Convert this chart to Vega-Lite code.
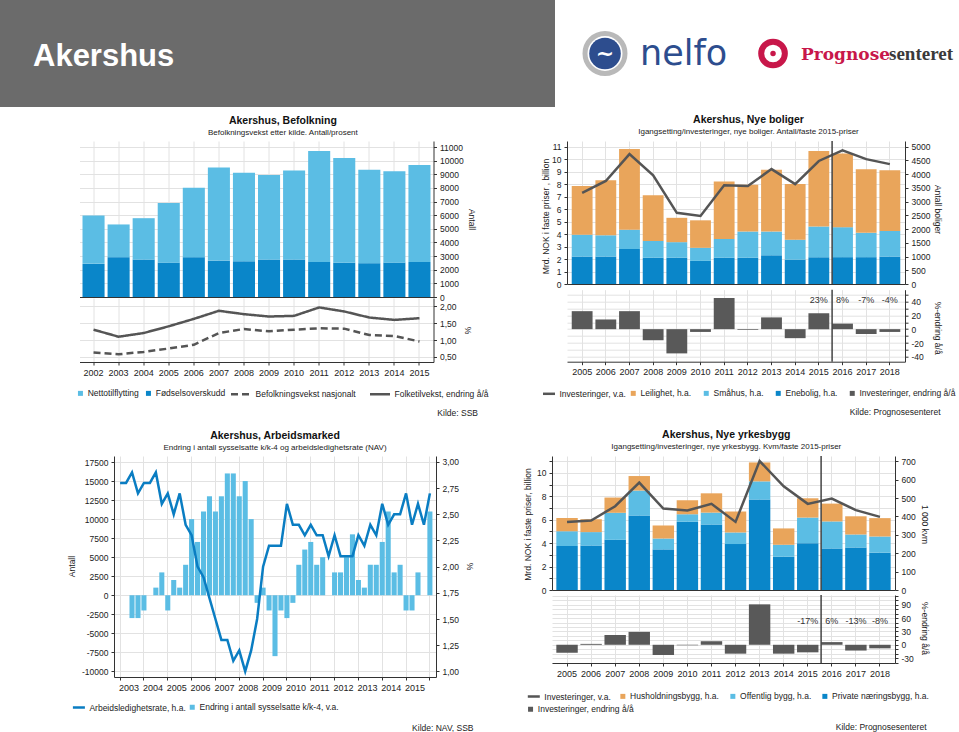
{
  "$schema": "https://vega.github.io/schema/vega-lite/v6.json",
  "background": "white",
  "padding": 0,
  "spacing": 0,
  "resolve": {"scale": {"color": "independent", "stroke": "independent", "strokeDash": "independent", "fill": "independent"}},
  "config": {
    "view": {"stroke": null},
    "font": "Liberation Sans",
    "axis": {"labelFont": "Liberation Sans", "labelFontSize": 8.5, "labelColor": "#222", "titleFont": "Liberation Sans", "titleFontSize": 8.5, "titleFontWeight": "normal", "titleColor": "#222", "gridColor": "#e2e2e2", "domainColor": "#333", "tickColor": "#333", "tickSize": 3, "labelPadding": 3},
    "legend": {"labelFont": "Liberation Sans", "labelFontSize": 8.5, "labelColor": "#222", "padding": 0, "symbolSize": 25, "labelOffset": 3, "columnPadding": 6},
    "title": {"font": "Liberation Sans", "fontSize": 10.5, "fontWeight": "bold", "color": "#111", "subtitleFont": "Liberation Sans", "subtitleFontSize": 8, "subtitleColor": "#222", "subtitlePadding": 3, "offset": 4, "anchor": "middle"}
  },
  "datasets": {
    "befolkning_bar": [
      {"aar": "2002", "serie": "Fødselsoverskudd", "antall": 2430}, {"aar": "2002", "serie": "Nettotilflytting", "antall": 3550},
      {"aar": "2003", "serie": "Fødselsoverskudd", "antall": 2920}, {"aar": "2003", "serie": "Nettotilflytting", "antall": 2400},
      {"aar": "2004", "serie": "Fødselsoverskudd", "antall": 2750}, {"aar": "2004", "serie": "Nettotilflytting", "antall": 3030},
      {"aar": "2005", "serie": "Fødselsoverskudd", "antall": 2520}, {"aar": "2005", "serie": "Nettotilflytting", "antall": 4370},
      {"aar": "2006", "serie": "Fødselsoverskudd", "antall": 2920}, {"aar": "2006", "serie": "Nettotilflytting", "antall": 5100},
      {"aar": "2007", "serie": "Fødselsoverskudd", "antall": 2670}, {"aar": "2007", "serie": "Nettotilflytting", "antall": 6820},
      {"aar": "2008", "serie": "Fødselsoverskudd", "antall": 2620}, {"aar": "2008", "serie": "Nettotilflytting", "antall": 6500},
      {"aar": "2009", "serie": "Fødselsoverskudd", "antall": 2750}, {"aar": "2009", "serie": "Nettotilflytting", "antall": 6200},
      {"aar": "2010", "serie": "Fødselsoverskudd", "antall": 2750}, {"aar": "2010", "serie": "Nettotilflytting", "antall": 6520},
      {"aar": "2011", "serie": "Fødselsoverskudd", "antall": 2570}, {"aar": "2011", "serie": "Nettotilflytting", "antall": 8140},
      {"aar": "2012", "serie": "Fødselsoverskudd", "antall": 2520}, {"aar": "2012", "serie": "Nettotilflytting", "antall": 7680},
      {"aar": "2013", "serie": "Fødselsoverskudd", "antall": 2480}, {"aar": "2013", "serie": "Nettotilflytting", "antall": 6860},
      {"aar": "2014", "serie": "Fødselsoverskudd", "antall": 2520}, {"aar": "2014", "serie": "Nettotilflytting", "antall": 6700},
      {"aar": "2015", "serie": "Fødselsoverskudd", "antall": 2570}, {"aar": "2015", "serie": "Nettotilflytting", "antall": 7110}
    ],
    "befolkning_linje": [
      {"aar": "2002", "serie": "Folketilvekst, endring å/å", "pst": 1.31}, {"aar": "2002", "serie": "Befolkningsvekst nasjonalt", "pst": 0.63},
      {"aar": "2003", "serie": "Folketilvekst, endring å/å", "pst": 1.10}, {"aar": "2003", "serie": "Befolkningsvekst nasjonalt", "pst": 0.58},
      {"aar": "2004", "serie": "Folketilvekst, endring å/å", "pst": 1.21}, {"aar": "2004", "serie": "Befolkningsvekst nasjonalt", "pst": 0.65},
      {"aar": "2005", "serie": "Folketilvekst, endring å/å", "pst": 1.41}, {"aar": "2005", "serie": "Befolkningsvekst nasjonalt", "pst": 0.75},
      {"aar": "2006", "serie": "Folketilvekst, endring å/å", "pst": 1.63}, {"aar": "2006", "serie": "Befolkningsvekst nasjonalt", "pst": 0.86},
      {"aar": "2007", "serie": "Folketilvekst, endring å/å", "pst": 1.87}, {"aar": "2007", "serie": "Befolkningsvekst nasjonalt", "pst": 1.21},
      {"aar": "2008", "serie": "Folketilvekst, endring å/å", "pst": 1.77}, {"aar": "2008", "serie": "Befolkningsvekst nasjonalt", "pst": 1.33},
      {"aar": "2009", "serie": "Folketilvekst, endring å/å", "pst": 1.70}, {"aar": "2009", "serie": "Befolkningsvekst nasjonalt", "pst": 1.26},
      {"aar": "2010", "serie": "Folketilvekst, endring å/å", "pst": 1.72}, {"aar": "2010", "serie": "Befolkningsvekst nasjonalt", "pst": 1.31},
      {"aar": "2011", "serie": "Folketilvekst, endring å/å", "pst": 1.97}, {"aar": "2011", "serie": "Befolkningsvekst nasjonalt", "pst": 1.35},
      {"aar": "2012", "serie": "Folketilvekst, endring å/å", "pst": 1.85}, {"aar": "2012", "serie": "Befolkningsvekst nasjonalt", "pst": 1.34},
      {"aar": "2013", "serie": "Folketilvekst, endring å/å", "pst": 1.67}, {"aar": "2013", "serie": "Befolkningsvekst nasjonalt", "pst": 1.15},
      {"aar": "2014", "serie": "Folketilvekst, endring å/å", "pst": 1.60}, {"aar": "2014", "serie": "Befolkningsvekst nasjonalt", "pst": 1.12},
      {"aar": "2015", "serie": "Folketilvekst, endring å/å", "pst": 1.65}, {"aar": "2015", "serie": "Befolkningsvekst nasjonalt", "pst": 0.96}
    ],
    "boliger_bar": [
      {"aar": "2005", "serie": "Enebolig, h.a.", "antall": 1000}, {"aar": "2005", "serie": "Småhus, h.a.", "antall": 795}, {"aar": "2005", "serie": "Leilighet, h.a.", "antall": 1773},
      {"aar": "2006", "serie": "Enebolig, h.a.", "antall": 1000}, {"aar": "2006", "serie": "Småhus, h.a.", "antall": 773}, {"aar": "2006", "serie": "Leilighet, h.a.", "antall": 2000},
      {"aar": "2007", "serie": "Enebolig, h.a.", "antall": 1273}, {"aar": "2007", "serie": "Småhus, h.a.", "antall": 705}, {"aar": "2007", "serie": "Leilighet, h.a.", "antall": 2932},
      {"aar": "2008", "serie": "Enebolig, h.a.", "antall": 955}, {"aar": "2008", "serie": "Småhus, h.a.", "antall": 614}, {"aar": "2008", "serie": "Leilighet, h.a.", "antall": 1659},
      {"aar": "2009", "serie": "Enebolig, h.a.", "antall": 955}, {"aar": "2009", "serie": "Småhus, h.a.", "antall": 568}, {"aar": "2009", "serie": "Leilighet, h.a.", "antall": 886},
      {"aar": "2010", "serie": "Enebolig, h.a.", "antall": 841}, {"aar": "2010", "serie": "Småhus, h.a.", "antall": 477}, {"aar": "2010", "serie": "Leilighet, h.a.", "antall": 1000},
      {"aar": "2011", "serie": "Enebolig, h.a.", "antall": 955}, {"aar": "2011", "serie": "Småhus, h.a.", "antall": 682}, {"aar": "2011", "serie": "Leilighet, h.a.", "antall": 2091},
      {"aar": "2012", "serie": "Enebolig, h.a.", "antall": 955}, {"aar": "2012", "serie": "Småhus, h.a.", "antall": 955}, {"aar": "2012", "serie": "Leilighet, h.a.", "antall": 1705},
      {"aar": "2013", "serie": "Enebolig, h.a.", "antall": 1045}, {"aar": "2013", "serie": "Småhus, h.a.", "antall": 864}, {"aar": "2013", "serie": "Leilighet, h.a.", "antall": 2250},
      {"aar": "2014", "serie": "Enebolig, h.a.", "antall": 886}, {"aar": "2014", "serie": "Småhus, h.a.", "antall": 727}, {"aar": "2014", "serie": "Leilighet, h.a.", "antall": 2023},
      {"aar": "2015", "serie": "Enebolig, h.a.", "antall": 977}, {"aar": "2015", "serie": "Småhus, h.a.", "antall": 1114}, {"aar": "2015", "serie": "Leilighet, h.a.", "antall": 2750},
      {"aar": "2016", "serie": "Enebolig, h.a.", "antall": 977}, {"aar": "2016", "serie": "Småhus, h.a.", "antall": 1091}, {"aar": "2016", "serie": "Leilighet, h.a.", "antall": 2682},
      {"aar": "2017", "serie": "Enebolig, h.a.", "antall": 977}, {"aar": "2017", "serie": "Småhus, h.a.", "antall": 886}, {"aar": "2017", "serie": "Leilighet, h.a.", "antall": 2318},
      {"aar": "2018", "serie": "Enebolig, h.a.", "antall": 1000}, {"aar": "2018", "serie": "Småhus, h.a.", "antall": 932}, {"aar": "2018", "serie": "Leilighet, h.a.", "antall": 2205}
    ],
    "boliger_inv": [
      {"aar": "2005", "mrd": 7.3, "endring": 26},
      {"aar": "2006", "mrd": 8.25, "endring": 14},
      {"aar": "2007", "mrd": 10.4, "endring": 26},
      {"aar": "2008", "mrd": 8.7, "endring": -16},
      {"aar": "2009", "mrd": 5.7, "endring": -35},
      {"aar": "2010", "mrd": 5.45, "endring": -4},
      {"aar": "2011", "mrd": 7.9, "endring": 45},
      {"aar": "2012", "mrd": 7.85, "endring": -1},
      {"aar": "2013", "mrd": 9.2, "endring": 17},
      {"aar": "2014", "mrd": 8.0, "endring": -13},
      {"aar": "2015", "mrd": 9.85, "endring": 23, "etikett": "23%"},
      {"aar": "2016", "mrd": 10.7, "endring": 8, "etikett": "8%"},
      {"aar": "2017", "mrd": 10.0, "endring": -7, "etikett": "-7%"},
      {"aar": "2018", "mrd": 9.6, "endring": -4, "etikett": "-4%"}
    ],
    "arbeid": [
      {"kvartal": "2003K1", "endring": 0, "rate": 2.8}, {"kvartal": "2003K2", "endring": 0, "rate": 2.8}, {"kvartal": "2003K3", "endring": -3000, "rate": 2.9}, {"kvartal": "2003K4", "endring": -3000, "rate": 2.7},
      {"kvartal": "2004K1", "endring": -2000, "rate": 2.8}, {"kvartal": "2004K2", "endring": 0, "rate": 2.8}, {"kvartal": "2004K3", "endring": 1000, "rate": 2.9}, {"kvartal": "2004K4", "endring": 3000, "rate": 2.6},
      {"kvartal": "2005K1", "endring": -2000, "rate": 2.7}, {"kvartal": "2005K2", "endring": 2000, "rate": 2.5}, {"kvartal": "2005K3", "endring": 1000, "rate": 2.7}, {"kvartal": "2005K4", "endring": 4000, "rate": 2.4},
      {"kvartal": "2006K1", "endring": 10000, "rate": 2.3}, {"kvartal": "2006K2", "endring": 7000, "rate": 2.0}, {"kvartal": "2006K3", "endring": 11000, "rate": 1.9}, {"kvartal": "2006K4", "endring": 13000, "rate": 1.7},
      {"kvartal": "2007K1", "endring": 11000, "rate": 1.5}, {"kvartal": "2007K2", "endring": 13000, "rate": 1.3}, {"kvartal": "2007K3", "endring": 16000, "rate": 1.3}, {"kvartal": "2007K4", "endring": 16000, "rate": 1.1},
      {"kvartal": "2008K1", "endring": 13000, "rate": 1.2}, {"kvartal": "2008K2", "endring": 15000, "rate": 1.0}, {"kvartal": "2008K3", "endring": 10000, "rate": 1.2}, {"kvartal": "2008K4", "endring": -1000, "rate": 1.5},
      {"kvartal": "2009K1", "endring": 1000, "rate": 2.0}, {"kvartal": "2009K2", "endring": -2000, "rate": 2.2}, {"kvartal": "2009K3", "endring": -8000, "rate": 2.2}, {"kvartal": "2009K4", "endring": -2000, "rate": 2.2},
      {"kvartal": "2010K1", "endring": -3000, "rate": 2.6}, {"kvartal": "2010K2", "endring": -1000, "rate": 2.4}, {"kvartal": "2010K3", "endring": 4000, "rate": 2.4}, {"kvartal": "2010K4", "endring": 6000, "rate": 2.3},
      {"kvartal": "2011K1", "endring": 7000, "rate": 2.4}, {"kvartal": "2011K2", "endring": 4000, "rate": 2.3}, {"kvartal": "2011K3", "endring": 5000, "rate": 2.3}, {"kvartal": "2011K4", "endring": 0, "rate": 2.1},
      {"kvartal": "2012K1", "endring": 3000, "rate": 2.3}, {"kvartal": "2012K2", "endring": 3000, "rate": 2.1}, {"kvartal": "2012K3", "endring": 5000, "rate": 2.1}, {"kvartal": "2012K4", "endring": 8000, "rate": 2.1},
      {"kvartal": "2013K1", "endring": 2000, "rate": 2.3}, {"kvartal": "2013K2", "endring": 1000, "rate": 2.2}, {"kvartal": "2013K3", "endring": 4000, "rate": 2.4}, {"kvartal": "2013K4", "endring": 4000, "rate": 2.3},
      {"kvartal": "2014K1", "endring": 7000, "rate": 2.6}, {"kvartal": "2014K2", "endring": 11000, "rate": 2.4}, {"kvartal": "2014K3", "endring": 3000, "rate": 2.5}, {"kvartal": "2014K4", "endring": 4000, "rate": 2.5},
      {"kvartal": "2015K1", "endring": -2000, "rate": 2.7}, {"kvartal": "2015K2", "endring": -2000, "rate": 2.4}, {"kvartal": "2015K3", "endring": 3000, "rate": 2.6}, {"kvartal": "2015K4", "endring": 0, "rate": 2.4},
      {"kvartal": "2016K1", "endring": 11000, "rate": 2.7}
    ],
    "yrkes_bar": [
      {"aar": "2005", "serie": "Private næringsbygg, h.a.", "kvm": 239}, {"aar": "2005", "serie": "Offentlig bygg, h.a.", "kvm": 81}, {"aar": "2005", "serie": "Husholdningsbygg, h.a.", "kvm": 72},
      {"aar": "2006", "serie": "Private næringsbygg, h.a.", "kvm": 242}, {"aar": "2006", "serie": "Offentlig bygg, h.a.", "kvm": 73}, {"aar": "2006", "serie": "Husholdningsbygg, h.a.", "kvm": 70},
      {"aar": "2007", "serie": "Private næringsbygg, h.a.", "kvm": 273}, {"aar": "2007", "serie": "Offentlig bygg, h.a.", "kvm": 147}, {"aar": "2007", "serie": "Husholdningsbygg, h.a.", "kvm": 83},
      {"aar": "2008", "serie": "Private næringsbygg, h.a.", "kvm": 405}, {"aar": "2008", "serie": "Offentlig bygg, h.a.", "kvm": 136}, {"aar": "2008", "serie": "Husholdningsbygg, h.a.", "kvm": 79},
      {"aar": "2009", "serie": "Private næringsbygg, h.a.", "kvm": 221}, {"aar": "2009", "serie": "Offentlig bygg, h.a.", "kvm": 59}, {"aar": "2009", "serie": "Husholdningsbygg, h.a.", "kvm": 71},
      {"aar": "2010", "serie": "Private næringsbygg, h.a.", "kvm": 371}, {"aar": "2010", "serie": "Offentlig bygg, h.a.", "kvm": 41}, {"aar": "2010", "serie": "Husholdningsbygg, h.a.", "kvm": 76},
      {"aar": "2011", "serie": "Private næringsbygg, h.a.", "kvm": 356}, {"aar": "2011", "serie": "Offentlig bygg, h.a.", "kvm": 65}, {"aar": "2011", "serie": "Husholdningsbygg, h.a.", "kvm": 105},
      {"aar": "2012", "serie": "Private næringsbygg, h.a.", "kvm": 250}, {"aar": "2012", "serie": "Offentlig bygg, h.a.", "kvm": 63}, {"aar": "2012", "serie": "Husholdningsbygg, h.a.", "kvm": 114},
      {"aar": "2013", "serie": "Private næringsbygg, h.a.", "kvm": 492}, {"aar": "2013", "serie": "Offentlig bygg, h.a.", "kvm": 99}, {"aar": "2013", "serie": "Husholdningsbygg, h.a.", "kvm": 103},
      {"aar": "2014", "serie": "Private næringsbygg, h.a.", "kvm": 181}, {"aar": "2014", "serie": "Offentlig bygg, h.a.", "kvm": 65}, {"aar": "2014", "serie": "Husholdningsbygg, h.a.", "kvm": 89},
      {"aar": "2015", "serie": "Private næringsbygg, h.a.", "kvm": 255}, {"aar": "2015", "serie": "Offentlig bygg, h.a.", "kvm": 139}, {"aar": "2015", "serie": "Husholdningsbygg, h.a.", "kvm": 105},
      {"aar": "2016", "serie": "Private næringsbygg, h.a.", "kvm": 226}, {"aar": "2016", "serie": "Offentlig bygg, h.a.", "kvm": 147}, {"aar": "2016", "serie": "Husholdningsbygg, h.a.", "kvm": 97},
      {"aar": "2017", "serie": "Private næringsbygg, h.a.", "kvm": 231}, {"aar": "2017", "serie": "Offentlig bygg, h.a.", "kvm": 71}, {"aar": "2017", "serie": "Husholdningsbygg, h.a.", "kvm": 99},
      {"aar": "2018", "serie": "Private næringsbygg, h.a.", "kvm": 203}, {"aar": "2018", "serie": "Offentlig bygg, h.a.", "kvm": 88}, {"aar": "2018", "serie": "Husholdningsbygg, h.a.", "kvm": 100}
    ],
    "yrkes_inv": [
      {"aar": "2005", "mrd": 5.82, "endring": -18},
      {"aar": "2006", "mrd": 5.94, "endring": 2},
      {"aar": "2007", "mrd": 7.16, "endring": 22},
      {"aar": "2008", "mrd": 9.18, "endring": 29},
      {"aar": "2009", "mrd": 6.96, "endring": -23},
      {"aar": "2010", "mrd": 6.79, "endring": -1},
      {"aar": "2011", "mrd": 7.36, "endring": 8},
      {"aar": "2012", "mrd": 5.82, "endring": -20},
      {"aar": "2013", "mrd": 11.02, "endring": 91},
      {"aar": "2014", "mrd": 8.86, "endring": -20},
      {"aar": "2015", "mrd": 7.36, "endring": -17, "etikett": "-17%"},
      {"aar": "2016", "mrd": 7.81, "endring": 6, "etikett": "6%"},
      {"aar": "2017", "mrd": 6.82, "endring": -13, "etikett": "-13%"},
      {"aar": "2018", "mrd": 6.25, "endring": -8, "etikett": "-8%"}
    ],
    "tom": [{"n": 0}],
    "skille": [{"aar": "2016"}],
    "topp": [{"n": 0, "tekst": "Akershus"}],
    "nelfo": [{"n": 0, "tekst": "nelfo", "ikon": "~"}],
    "prognose": [{"n": 0, "del1": "Prognose", "del2": "senteret"}]
  },
  "vconcat": [
    {
      "spacing": 0,
      "hconcat": [
        {
          "width": 555,
          "height": 107,
          "view": {"fill": "#6b6b6b", "stroke": null},
          "data": {"name": "topp"},
          "mark": {"type": "text", "color": "white", "font": "Liberation Sans", "fontWeight": "bold", "fontSize": 31, "align": "left", "baseline": "middle", "dx": 33, "dy": 3},
          "encoding": {
            "x": {"field": "n", "type": "quantitative", "scale": {"domain": [0, 1]}, "axis": null},
            "y": {"field": "n", "type": "quantitative", "scale": {"domain": [-1, 1]}, "axis": null},
            "text": {"field": "tekst"}
          }
        },
        {
          "width": 180,
          "height": 107,
          "data": {"name": "nelfo"},
          "encoding": {
            "x": {"field": "n", "type": "quantitative", "scale": {"domain": [-1, 2.6]}, "axis": null},
            "y": {"field": "n", "type": "quantitative", "scale": {"domain": [-1, 1]}, "axis": null}
          },
          "layer": [
            {"mark": {"type": "point", "shape": "circle", "filled": false, "stroke": "#b9b9b9", "strokeWidth": 5, "size": 1600, "opacity": 1}},
            {"mark": {"type": "point", "shape": "circle", "filled": true, "color": "#2d4d8e", "size": 1000, "opacity": 1}},
            {"mark": {"type": "text", "color": "white", "font": "DejaVu Sans", "fontWeight": "bold", "fontSize": 22, "align": "center", "baseline": "middle"}, "encoding": {"text": {"field": "ikon"}}},
            {"mark": {"type": "text", "color": "#2d4d8e", "font": "DejaVu Sans", "fontSize": 35, "align": "left", "baseline": "alphabetic", "dx": 35, "dy": 11}, "encoding": {"text": {"field": "tekst"}}}
          ]
        },
        {
          "width": 224,
          "height": 107,
          "data": {"name": "prognose"},
          "encoding": {
            "x": {"field": "n", "type": "quantitative", "scale": {"domain": [-1, 4.89]}, "axis": null},
            "y": {"field": "n", "type": "quantitative", "scale": {"domain": [-1, 1]}, "axis": null}
          },
          "layer": [
            {"mark": {"type": "point", "shape": "circle", "filled": false, "stroke": "#c8174a", "strokeWidth": 6, "size": 560, "opacity": 1}},
            {"mark": {"type": "point", "shape": "circle", "filled": true, "color": "#c8174a", "size": 30, "opacity": 1}},
            {"mark": {"type": "text", "color": "#c8174a", "font": "DejaVu Serif", "fontWeight": "bold", "fontSize": 17, "align": "left", "baseline": "alphabetic", "dx": 28, "dy": 6}, "encoding": {"text": {"field": "del1"}}},
            {"mark": {"type": "text", "color": "#3a3a3a", "font": "Liberation Serif", "fontWeight": "bold", "fontSize": 19, "align": "left", "baseline": "alphabetic", "dx": 116, "dy": 6}, "encoding": {"text": {"field": "del2"}}}
          ]
        }
      ]
    },
    {
      "width": 10, "height": 7,
      "data": {"name": "tom"},
      "mark": {"type": "point", "opacity": 0, "size": 0},
      "encoding": {"x": {"field": "n", "type": "quantitative", "axis": null}, "y": {"field": "n", "type": "quantitative", "axis": null}}
    },
    {
      "spacing": 51.5,
      "resolve": {"scale": {"color": "independent", "stroke": "independent", "strokeDash": "independent", "fill": "independent"}},
      "hconcat": [
        {
          "width": 24, "height": 10,
          "data": {"name": "tom"},
          "mark": {"type": "point", "opacity": 0, "size": 0},
          "encoding": {"x": {"field": "n", "type": "quantitative", "axis": null}, "y": {"field": "n", "type": "quantitative", "axis": null}}
        },
        {
          "title": {"text": "Akershus, Befolkning", "subtitle": "Befolkningsvekst etter kilde. Antall/prosent", "anchor": "middle"},
          "spacing": 1,
          "bounds": "flush",
          "vconcat": [
            {
              "width": 354,
              "height": 156,
              "data": {"name": "befolkning_bar"},
              "transform": [{"calculate": "indexof(['Fødselsoverskudd','Nettotilflytting'], datum.serie)", "as": "rekke"}],
              "mark": {"type": "bar"},
              "encoding": {
                "x": {"field": "aar", "type": "ordinal", "scale": {"type": "band", "paddingInner": 0.12, "paddingOuter": 0.12}, "axis": {"title": null, "labels": false, "ticks": false, "grid": true, "domain": true}},
                "y": {"field": "antall", "type": "quantitative", "stack": "zero", "scale": {"domain": [0, 11440], "nice": false}, "axis": {"orient": "right", "values": [0, 1000, 2000, 3000, 4000, 5000, 6000, 7000, 8000, 9000, 10000, 11000], "labelExpr": "datum.value + ''", "title": "Antall", "titleX": 38, "titleY": 78, "titleAngle": 90, "titleAlign": "center", "titleBaseline": "middle", "grid": true}},
                "color": {
                  "field": "serie", "type": "nominal",
                  "scale": {"domain": ["Nettotilflytting", "Fødselsoverskudd"], "range": ["#5bbde4", "#0a86c9"]},
                  "legend": {"orient": "none", "legendX": -3.3, "legendY": 248, "direction": "horizontal", "title": null, "symbolType": "square", "columnPadding": 5}
                },
                "order": {"field": "rekke", "type": "quantitative"}
              }
            },
            {
              "width": 354,
              "height": 64,
              "data": {"name": "befolkning_linje"},
              "mark": {"type": "line", "strokeWidth": 2.5},
              "encoding": {
                "x": {"field": "aar", "type": "ordinal", "scale": {"type": "band", "paddingInner": 0.12, "paddingOuter": 0.12}, "axis": {"title": "Kilde: SSB", "titleX": 398, "titleY": 50, "titleAlign": "right", "titleBaseline": "middle", "labelAngle": 0, "grid": true, "labelFontSize": 9}},
                "y": {"field": "pst", "type": "quantitative", "scale": {"domain": [0.35, 2.25], "nice": false, "zero": false}, "axis": {"orient": "right", "values": [0.5, 1, 1.5, 2], "labelExpr": "replace(format(datum.value, '.2f'), '.', ',')", "title": "%", "titleX": 34, "titleY": 32, "titleAngle": 90, "titleAlign": "center", "titleBaseline": "middle", "grid": true}},
                "stroke": {
                  "field": "serie", "type": "nominal",
                  "scale": {"domain": ["Befolkningsvekst nasjonalt", "Folketilvekst, endring å/å"], "range": ["#555555", "#555555"]},
                  "legend": {"orient": "none", "legendX": 150, "legendY": 241.5, "direction": "horizontal", "title": null, "symbolType": "stroke", "symbolSize": 400, "symbolStrokeWidth": 2.5, "columnPadding": 8}
                },
                "strokeDash": {
                  "field": "serie", "type": "nominal",
                  "scale": {"domain": ["Befolkningsvekst nasjonalt", "Folketilvekst, endring å/å"], "range": [[7, 4], [1, 0]]},
                  "legend": {"orient": "none", "legendX": 150, "legendY": 241.5, "direction": "horizontal", "title": null, "symbolType": "stroke", "symbolSize": 400, "symbolStrokeWidth": 2.5, "columnPadding": 8}
                }
              }
            }
          ]
        },
        {
          "title": {"text": "Akershus, Nye boliger", "subtitle": "Igangsetting/investeringer, nye boliger. Antall/faste 2015-priser", "anchor": "middle"},
          "spacing": 5.7,
          "bounds": "flush",
          "vconcat": [
            {
              "width": 338,
              "height": 143,
              "resolve": {"scale": {"y": "independent"}},
              "layer": [
                {
                  "data": {"name": "boliger_bar"},
                  "transform": [{"calculate": "indexof(['Enebolig, h.a.','Småhus, h.a.','Leilighet, h.a.'], datum.serie)", "as": "rekke"}],
                  "mark": {"type": "bar"},
                  "encoding": {
                    "x": {"field": "aar", "type": "ordinal", "scale": {"type": "band", "paddingInner": 0.12, "paddingOuter": 0.2}, "axis": {"title": null, "labels": false, "ticks": false, "grid": true, "domain": true}},
                    "y": {"field": "antall", "type": "quantitative", "stack": "zero", "scale": {"domain": [0, 5205], "nice": false}, "axis": {"orient": "right", "values": [0, 500, 1000, 1500, 2000, 2500, 3000, 3500, 4000, 4500, 5000], "labelExpr": "datum.value + ''", "title": "Antall boliger", "titleX": 32, "titleY": 68, "titleAngle": 90, "titleAlign": "center", "titleBaseline": "middle", "grid": false}},
                    "color": {
                      "field": "serie", "type": "nominal",
                      "scale": {"domain": ["Leilighet, h.a.", "Småhus, h.a.", "Enebolig, h.a.", "Investeringer, endring å/å"], "range": ["#e9a55b", "#5bbde4", "#0a86c9", "#595959"]},
                      "legend": {"orient": "none", "legendX": 62, "legendY": 248, "direction": "horizontal", "title": null, "symbolType": "square", "columnPadding": 10}
                    },
                    "order": {"field": "rekke", "type": "quantitative"}
                  }
                },
                {
                  "data": {"name": "boliger_inv"},
                  "transform": [{"calculate": "'Investeringer, v.a.'", "as": "serie"}],
                  "mark": {"type": "line", "strokeWidth": 2.5},
                  "encoding": {
                    "x": {"field": "aar", "type": "ordinal", "scale": {"type": "band", "paddingInner": 0.12, "paddingOuter": 0.2}},
                    "y": {"field": "mrd", "type": "quantitative", "scale": {"domain": [0, 11.45], "nice": false}, "axis": {"orient": "left", "values": [0, 1, 2, 3, 4, 5, 6, 7, 8, 9, 10, 11], "title": "Mrd. NOK i faste priser , billion", "titleX": -22, "titleY": 75, "titleAngle": -90, "titleAlign": "center", "titleBaseline": "middle", "grid": true}},
                    "stroke": {
                      "field": "serie", "type": "nominal",
                      "scale": {"domain": ["Investeringer, v.a."], "range": ["#555555"]},
                      "legend": {"orient": "none", "legendX": -25.5, "legendY": 245.3, "direction": "horizontal", "title": null, "symbolType": "stroke", "symbolSize": 144, "symbolStrokeWidth": 2.5}
                    }
                  }
                },
                {
                  "data": {"name": "skille"},
                  "mark": {"type": "rule", "color": "#444444", "strokeWidth": 1.5},
                  "encoding": {"x": {"field": "aar", "type": "ordinal", "bandPosition": 0}}
                }
              ]
            },
            {
              "width": 338,
              "height": 72,
              "layer": [
                {
                  "data": {"name": "boliger_inv"},
                  "transform": [{"calculate": "'Investeringer, endring å/å'", "as": "serie"}],
                  "mark": {"type": "bar"},
                  "encoding": {
                    "x": {"field": "aar", "type": "ordinal", "scale": {"type": "band", "paddingInner": 0.12, "paddingOuter": 0.2}, "axis": {"title": "Kilde: Prognosesenteret", "titleX": 373, "titleY": 50, "titleAlign": "right", "titleBaseline": "middle", "labelAngle": 0, "grid": true, "labelFontSize": 9}},
                    "y": {"field": "endring", "type": "quantitative", "scale": {"domain": [-47, 57], "nice": false}, "axis": {"orient": "right", "values": [-40, -30, -20, -10, 0, 10, 20, 30, 40, 50], "labelExpr": "datum.value % 20 === 0 ? datum.value + '' : ''", "title": "%-endring å/å", "titleX": 32, "titleY": 38, "titleAngle": 90, "titleAlign": "center", "titleBaseline": "middle", "grid": true}},
                    "color": {"field": "serie", "type": "nominal", "scale": {"domain": ["Leilighet, h.a.", "Småhus, h.a.", "Enebolig, h.a.", "Investeringer, endring å/å"], "range": ["#e9a55b", "#5bbde4", "#0a86c9", "#595959"]}}
                  }
                },
                {
                  "data": {"name": "boliger_inv"},
                  "transform": [{"filter": "datum.etikett"}],
                  "mark": {"type": "text", "fontSize": 9, "color": "#333333", "dy": -26},
                  "encoding": {
                    "x": {"field": "aar", "type": "ordinal", "scale": {"type": "band", "paddingInner": 0.12, "paddingOuter": 0.2}},
                    "text": {"field": "etikett"}
                  }
                },
                {
                  "data": {"name": "skille"},
                  "mark": {"type": "rule", "color": "#444444", "strokeWidth": 1.5},
                  "encoding": {"x": {"field": "aar", "type": "ordinal", "bandPosition": 0}}
                }
              ]
            }
          ]
        }
      ]
    },
    {
      "width": 10, "height": 12,
      "data": {"name": "tom"},
      "mark": {"type": "point", "opacity": 0, "size": 0},
      "encoding": {"x": {"field": "n", "type": "quantitative", "axis": null}, "y": {"field": "n", "type": "quantitative", "axis": null}}
    },
    {
      "spacing": 48,
      "resolve": {"scale": {"color": "independent", "stroke": "independent", "strokeDash": "independent", "fill": "independent"}},
      "hconcat": [
        {
          "width": 19, "height": 10,
          "data": {"name": "tom"},
          "mark": {"type": "point", "opacity": 0, "size": 0},
          "encoding": {"x": {"field": "n", "type": "quantitative", "axis": null}, "y": {"field": "n", "type": "quantitative", "axis": null}}
        },
        {
          "title": {"text": "Akershus, Arbeidsmarked", "subtitle": "Endring i antall sysselsatte k/k-4 og arbeidsledighetsrate (NAV)", "anchor": "middle"},
          "width": 322,
          "height": 221,
          "data": {"name": "arbeid"},
          "resolve": {"scale": {"y": "independent"}},
          "layer": [
            {
              "transform": [{"calculate": "'Endring i antall sysselsatte k/k-4, v.a.'", "as": "serie"}],
              "mark": {"type": "bar"},
              "encoding": {
                "x": {"field": "kvartal", "type": "ordinal", "scale": {"type": "band", "paddingInner": 0.15, "paddingOuter": 0.6}, "axis": {"title": "Kilde: NAV, SSB", "titleX": 359, "titleY": 50, "titleAlign": "right", "titleBaseline": "middle", "values": ["2003K1", "2004K1", "2005K1", "2006K1", "2007K1", "2008K1", "2009K1", "2010K1", "2011K1", "2012K1", "2013K1", "2014K1", "2015K1", "2016K1"], "labelOffset": 9, "labelExpr": "datum.value === '2016K1' ? '' : slice(datum.value, 0, 4)", "labelAngle": 0, "grid": true, "labelFontSize": 9}},
                "y": {"field": "endring", "type": "quantitative", "scale": {"domain": [-10740, 18290], "nice": false}, "axis": {"orient": "left", "values": [-10000, -7500, -5000, -2500, 0, 2500, 5000, 7500, 10000, 12500, 15000, 17500], "labelExpr": "datum.value + ''", "title": "Antall", "titleX": -42.6, "titleY": 110, "titleAngle": -90, "titleAlign": "center", "titleBaseline": "middle", "grid": true}},
                "color": {
                  "field": "serie", "type": "nominal",
                  "scale": {"domain": ["Endring i antall sysselsatte k/k-4, v.a."], "range": ["#5bbde4"]},
                  "legend": {"orient": "none", "legendX": 74, "legendY": 247, "direction": "horizontal", "title": null, "symbolType": "square"}
                }
              }
            },
            {
              "transform": [{"calculate": "'Arbeidsledighetsrate, h.a.'", "as": "serie"}],
              "mark": {"type": "line", "strokeWidth": 2.5},
              "encoding": {
                "x": {"field": "kvartal", "type": "ordinal", "scale": {"type": "band", "paddingInner": 0.15, "paddingOuter": 0.6}},
                "y": {"field": "rate", "type": "quantitative", "scale": {"domain": [0.946, 3.057], "nice": false, "zero": false}, "axis": {"orient": "right", "values": [1, 1.25, 1.5, 1.75, 2, 2.25, 2.5, 2.75, 3], "labelExpr": "replace(format(datum.value, '.2f'), '.', ',')", "title": "%", "titleX": 33.3, "titleY": 110, "titleAngle": 90, "titleAlign": "center", "titleBaseline": "middle", "grid": false}},
                "stroke": {
                  "field": "serie", "type": "nominal",
                  "scale": {"domain": ["Arbeidsledighetsrate, h.a."], "range": ["#0a7dc2"]},
                  "legend": {"orient": "none", "legendX": -42.6, "legendY": 244, "direction": "horizontal", "title": null, "symbolType": "stroke", "symbolSize": 144, "symbolStrokeWidth": 2.5}
                }
              }
            }
          ]
        },
        {
          "title": {"text": "Akershus, Nye yrkesbygg", "subtitle": "Igangsetting/investeringer, nye yrkesbygg. Kvm/faste 2015-priser", "anchor": "middle"},
          "spacing": 5,
          "bounds": "flush",
          "vconcat": [
            {
              "width": 343,
              "height": 134,
              "resolve": {"scale": {"y": "independent"}},
              "layer": [
                {
                  "data": {"name": "yrkes_bar"},
                  "transform": [{"calculate": "indexof(['Private næringsbygg, h.a.','Offentlig bygg, h.a.','Husholdningsbygg, h.a.'], datum.serie)", "as": "rekke"}],
                  "mark": {"type": "bar"},
                  "encoding": {
                    "x": {"field": "aar", "type": "ordinal", "scale": {"type": "band", "paddingInner": 0.11, "paddingOuter": 0.18}, "axis": {"title": null, "labels": false, "ticks": false, "grid": true, "domain": true}},
                    "y": {"field": "kvm", "type": "quantitative", "stack": "zero", "scale": {"domain": [0, 729], "nice": false}, "axis": {"orient": "right", "values": [0, 100, 200, 300, 400, 500, 600, 700], "labelExpr": "datum.value + ''", "title": "1 000 kvm", "titleX": 29, "titleY": 68, "titleAngle": 90, "titleAlign": "center", "titleBaseline": "middle", "grid": false}},
                    "color": {
                      "field": "serie", "type": "nominal",
                      "scale": {"domain": ["Husholdningsbygg, h.a.", "Offentlig bygg, h.a.", "Private næringsbygg, h.a."], "range": ["#e9a55b", "#5bbde4", "#0a86c9"]},
                      "legend": {"orient": "none", "legendX": 66.6, "legendY": 236, "direction": "horizontal", "title": null, "symbolType": "square", "columnPadding": 9}
                    },
                    "order": {"field": "rekke", "type": "quantitative"}
                  }
                },
                {
                  "data": {"name": "yrkes_inv"},
                  "transform": [{"calculate": "'Investeringer, v.a.'", "as": "serie"}],
                  "mark": {"type": "line", "strokeWidth": 2.5},
                  "encoding": {
                    "x": {"field": "aar", "type": "ordinal", "scale": {"type": "band", "paddingInner": 0.11, "paddingOuter": 0.18}},
                    "y": {"field": "mrd", "type": "quantitative", "scale": {"domain": [0, 11.45], "nice": false}, "axis": {"orient": "left", "values": [0, 1, 2, 3, 4, 5, 6, 7, 8, 9, 10, 11], "labelExpr": "datum.value % 2 === 0 ? datum.value + '' : ''", "title": "Mrd. NOK i faste priser, billion", "titleX": -25, "titleY": 68, "titleAngle": -90, "titleAlign": "center", "titleBaseline": "middle", "grid": true}},
                    "stroke": {
                      "field": "serie", "type": "nominal",
                      "scale": {"domain": ["Investeringer, v.a."], "range": ["#555555"]},
                      "legend": {"orient": "none", "legendX": -25.7, "legendY": 233, "direction": "horizontal", "title": null, "symbolType": "stroke", "symbolSize": 144, "symbolStrokeWidth": 2.5}
                    }
                  }
                },
                {
                  "data": {"name": "skille"},
                  "mark": {"type": "rule", "color": "#444444", "strokeWidth": 1.5},
                  "encoding": {"x": {"field": "aar", "type": "ordinal", "bandPosition": 0}}
                }
              ]
            },
            {
              "width": 343,
              "height": 68,
              "layer": [
                {
                  "data": {"name": "yrkes_inv"},
                  "transform": [{"calculate": "'Investeringer, endring å/å'", "as": "serie"}],
                  "mark": {"type": "bar"},
                  "encoding": {
                    "x": {"field": "aar", "type": "ordinal", "scale": {"type": "band", "paddingInner": 0.11, "paddingOuter": 0.18}, "axis": {"title": "Kilde: Prognosesenteret", "titleX": 374, "titleY": 63, "titleAlign": "right", "titleBaseline": "middle", "labelAngle": 0, "grid": true, "labelFontSize": 9}},
                    "y": {"field": "endring", "type": "quantitative", "scale": {"domain": [-41, 112], "nice": false}, "axis": {"orient": "right", "values": [-40, -30, -20, -10, 0, 10, 20, 30, 40, 50, 60, 70, 80, 90, 100, 110], "labelExpr": "datum.value % 30 === 0 ? datum.value + '' : ''", "title": "%-endring å/å", "titleX": 29, "titleY": 33, "titleAngle": 90, "titleAlign": "center", "titleBaseline": "middle", "grid": true}},
                    "fill": {
                      "field": "serie", "type": "nominal",
                      "scale": {"domain": ["Investeringer, endring å/å"], "range": ["#595959"]},
                      "legend": {"orient": "none", "legendX": -25.7, "legendY": 249, "direction": "horizontal", "title": null, "symbolType": "square"}
                    }
                  }
                },
                {
                  "data": {"name": "yrkes_inv"},
                  "transform": [{"filter": "datum.etikett"}],
                  "mark": {"type": "text", "fontSize": 9, "color": "#333333", "dy": -8},
                  "encoding": {
                    "x": {"field": "aar", "type": "ordinal", "scale": {"type": "band", "paddingInner": 0.11, "paddingOuter": 0.18}},
                    "text": {"field": "etikett"}
                  }
                },
                {
                  "data": {"name": "skille"},
                  "mark": {"type": "rule", "color": "#444444", "strokeWidth": 1.5},
                  "encoding": {"x": {"field": "aar", "type": "ordinal", "bandPosition": 0}}
                }
              ]
            }
          ]
        }
      ]
    }
  ]
}
